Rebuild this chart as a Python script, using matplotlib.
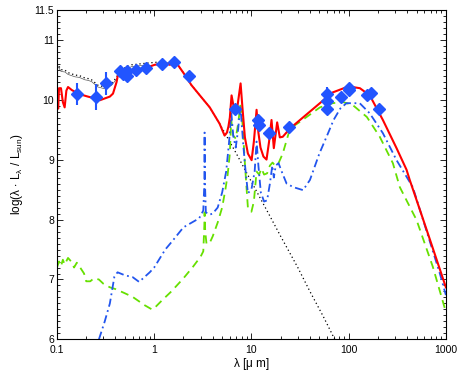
import numpy as np
import matplotlib
matplotlib.use("Agg")
import matplotlib.pyplot as plt
from matplotlib.ticker import FixedLocator, MultipleLocator, LogLocator, NullFormatter

plt.rcParams['font.family'] = ['Liberation Sans', 'DejaVu Sans']
plt.rcParams['mathtext.fontset'] = 'custom'
plt.rcParams['mathtext.rm'] = 'Liberation Sans'
plt.rcParams['mathtext.it'] = 'Liberation Sans'

# total model SED (red)
lam_tot = [0.1, 0.103, 0.105, 0.11, 0.115, 0.12, 0.125, 0.13, 0.142, 0.153, 0.18, 0.208,
           0.246, 0.277, 0.311, 0.35, 0.377, 0.41, 0.424, 0.464, 0.634, 0.86, 1.01, 1.29,
           1.45, 1.63, 1.75, 2.07, 2.42, 2.95, 3.73, 4.7, 5.3, 5.6, 5.8, 6.0, 6.25, 6.76,
           7.2, 7.74, 8.1, 8.57, 9.2, 10.05, 10.6, 11.0, 11.3, 11.8, 12.4, 13.3, 14.3, 15.2,
           16.1, 17.0, 18.4, 19.6, 21.0, 23.2, 25.0, 31.6, 50.6, 68.6, 100.0, 130.6, 165.0,
           225.0, 311.0, 394.0, 425.0, 541.0, 684.0, 1000.0]
log_tot = [10.02, 9.85, 10.19, 10.19, 9.96, 9.87, 10.15, 10.21, 10.16, 10.13, 10.08, 10.05,
           10.02, 9.99, 10.02, 10.05, 10.10, 10.29, 10.41, 10.46, 10.49, 10.54, 10.58, 10.61,
           10.58, 10.66, 10.58, 10.41, 10.24, 10.07, 9.87, 9.60, 9.40, 9.45, 9.55, 9.70, 10.07, 9.77,
           9.90, 10.27, 9.85, 9.37, 9.10, 8.99, 9.30, 9.60, 9.83, 9.45, 9.20, 9.05, 9.00, 9.30,
           9.66, 9.19, 9.62, 9.37, 9.38, 9.46, 9.52, 9.66, 9.94, 10.12, 10.22, 10.19, 10.07,
           9.66, 9.19, 8.83, 8.66, 8.16, 7.67, 6.87]

# dust emission, component 1 (green dashed)
lam_d1 = [0.1, 0.105, 0.11, 0.115, 0.12, 0.13, 0.14, 0.15, 0.16, 0.17, 0.19, 0.2, 0.22, 0.24,
          0.27, 0.3, 0.35, 0.4, 0.5, 0.6, 0.8, 0.95, 1.0, 1.2, 1.5, 2.0, 2.5, 3.0, 3.2, 3.28,
          3.3, 3.35, 3.45, 3.7, 4.0, 4.5, 5.0, 5.4, 5.7, 6.0, 6.2, 6.5, 6.9, 7.3, 7.7, 8.1,
          8.6, 9.2, 10.0, 10.6, 11.3, 12.0, 12.7, 13.5, 14.5, 15.5, 16.5, 17.5, 19.0, 21.0,
          23.0, 25.0, 31.6, 50.6, 68.5, 87.0, 110.0, 154.0, 209.0, 285.0, 336.0, 500.0,
          735.0, 975.0, 1000.0]
log_d1 = [7.20, 7.30, 7.22, 7.33, 7.25, 7.36, 7.30, 7.20, 7.28, 7.22, 7.10, 6.97, 6.97, 7.02,
          7.00, 6.93, 6.87, 6.84, 6.77, 6.71, 6.57, 6.50, 6.52, 6.65, 6.80, 7.02, 7.21, 7.38,
          7.47, 7.90, 8.12, 7.80, 7.60, 7.60, 7.72, 7.95, 8.20, 8.50, 8.75, 9.10, 9.66, 9.40,
          9.35, 9.60, 9.90, 9.60, 8.90, 8.20, 8.13, 8.30, 8.80, 8.75, 8.85, 8.75, 8.77, 8.90,
          8.95, 8.90, 8.94, 9.10, 9.32, 9.52, 9.63, 9.87, 9.94, 9.96, 9.91, 9.71, 9.38, 8.94,
          8.54, 7.99, 7.21, 6.52, 6.47]

# dust emission, component 2 (blue dash-dot)
lam_d2 = [0.27, 0.31, 0.35, 0.39, 0.42, 0.5, 0.6, 0.7, 0.9, 1.0, 1.3, 1.5, 2.0, 2.9, 3.2,
          3.28, 3.3, 3.33, 3.4, 3.7, 4.0, 4.5, 5.0, 5.5, 5.9, 6.2, 6.5, 6.9, 7.3, 7.7, 8.2,
          8.6, 9.2, 10.0, 10.8, 11.3, 11.8, 12.5, 13.5, 14.5, 15.5, 16.4, 17.0, 17.8, 19.0,
          20.5, 23.0, 27.0, 34.0, 40.0, 50.0, 60.0, 70.0, 82.0, 95.0, 130.0, 165.0, 225.0,
          311.0, 457.0, 630.0, 867.0, 1000.0]
log_d2 = [6.00, 6.30, 6.60, 7.05, 7.12, 7.07, 7.04, 6.96, 7.12, 7.20, 7.50, 7.62, 7.87, 8.02,
          8.15, 8.60, 9.45, 8.60, 8.12, 8.08, 8.10, 8.20, 8.45, 8.80, 9.30, 9.80, 9.40, 9.20,
          9.50, 9.90, 9.30, 8.90, 8.44, 8.50, 8.80, 9.30, 8.90, 8.45, 8.30, 8.32, 8.60, 8.90,
          8.70, 8.90, 8.94, 8.80, 8.60, 8.54, 8.49, 8.66, 9.10, 9.40, 9.66, 9.85, 9.94, 9.94,
          9.77, 9.44, 8.99, 8.54, 7.82, 7.10, 6.74]

# stellar emission (black)
lam_star = [0.1, 0.103, 0.11, 0.121, 0.13, 0.153, 0.17, 0.194, 0.21, 0.227, 0.264, 0.311,
            0.365, 0.41, 0.444, 0.585, 0.86, 1.19, 1.45, 1.63, 1.75, 2.07, 2.42, 2.95, 3.73,
            4.7, 5.3, 7.0, 10.0, 15.0, 20.0, 30.0, 40.0, 55.0, 72.0]
log_star = [10.55, 10.58, 10.50, 10.49, 10.45, 10.41, 10.40, 10.36, 10.35, 10.33, 10.24, 10.21,
            10.27, 10.37, 10.49, 10.58, 10.61, 10.63, 10.60, 10.63, 10.58, 10.41, 10.24, 10.07,
            9.87, 9.60, 9.45, 9.10, 8.63, 8.10, 7.72, 7.20, 6.80, 6.38, 6.00]

# photometry (blue diamonds)
lam_obs = [0.162, 0.25, 0.317, 0.444, 0.48, 0.53, 0.53, 0.643, 0.82, 1.21, 1.59, 2.26,
           6.76, 11.8, 12.1, 15.0, 24.4, 60.5, 60.5, 60.5, 82.8, 100.5, 100.5, 155.0, 170.0, 204.0]
log_obs = [10.09, 10.04, 10.27, 10.48, 10.43, 10.47, 10.40, 10.49, 10.52, 10.60, 10.63, 10.40,
           9.84, 9.66, 9.57, 9.44, 9.55, 10.10, 9.97, 9.85, 10.05, 10.16, 10.20, 10.08, 10.11, 9.84]
err_obs = [0.18, 0.22, 0.19, 0.0, 0.0, 0.0, 0.0, 0.0, 0.0, 0.0, 0.0, 0.0,
           0.0, 0.05, 0.0, 0.0, 0.0, 0.11, 0.0, 0.0, 0.0, 0.05, 0.0, 0.0, 0.0, 0.0]

fig = plt.figure(figsize=(4.63, 3.71), dpi=100)
ax = fig.add_axes([0.123, 0.085, 0.840, 0.889])

ax.plot(lam_star[:17], np.array(log_star[:17]) - 0.03, color='0.35', lw=0.5)
ax.plot(lam_star, log_star, color='black', lw=0.9, ls=(0, (1, 2.2)))
ax.plot(lam_d1, log_d1, color='#66e000', lw=1.3, ls=(0, (4.5, 3)))
ax.plot(lam_d2, log_d2, color='#2255ee', lw=1.3, ls=(0, (4.5, 2, 1, 2)))
ax.plot(lam_tot, log_tot, color='red', lw=1.5)
ax.errorbar(lam_obs, log_obs, yerr=err_obs, fmt='D', color='#2255ff', ms=6,
            mec='#2255ff', elinewidth=1.5, capsize=0, zorder=5)

ax.set_xscale('log')
ax.set_xlim(0.1, 1000)
ax.set_ylim(6, 11.5)
ax.set_xticks([0.1, 1, 10, 100, 1000])
ax.set_xticklabels(['0.1', '1', '10', '100', '1000'])
ax.xaxis.set_minor_locator(LogLocator(base=10, subs=np.arange(2, 10)))
ax.xaxis.set_minor_formatter(NullFormatter())
ax.yaxis.set_major_locator(FixedLocator([6, 7, 8, 9, 10, 11, 11.5]))
ax.set_yticklabels(['6', '7', '8', '9', '10', '11', '11.5'])
ax.yaxis.set_minor_locator(MultipleLocator(0.1))
ax.tick_params(which='both', direction='in', top=True, right=True, labelsize=7.5, width=0.6)
ax.tick_params(which='major', length=4, pad=2)
ax.tick_params(axis='x', which='major', pad=4)
ax.tick_params(which='minor', length=2)
for s in ax.spines.values():
    s.set_linewidth(0.8)

ax.set_xlabel(r'$\lambda$ [$\mu$ m]', fontsize=8.5, labelpad=1)
ax.set_ylabel(r'log($\lambda$ $\cdot$ L$_\lambda$ / L$_{\rm sun}$)', fontsize=8.5, labelpad=7)

fig.savefig('out.png', dpi=100)
